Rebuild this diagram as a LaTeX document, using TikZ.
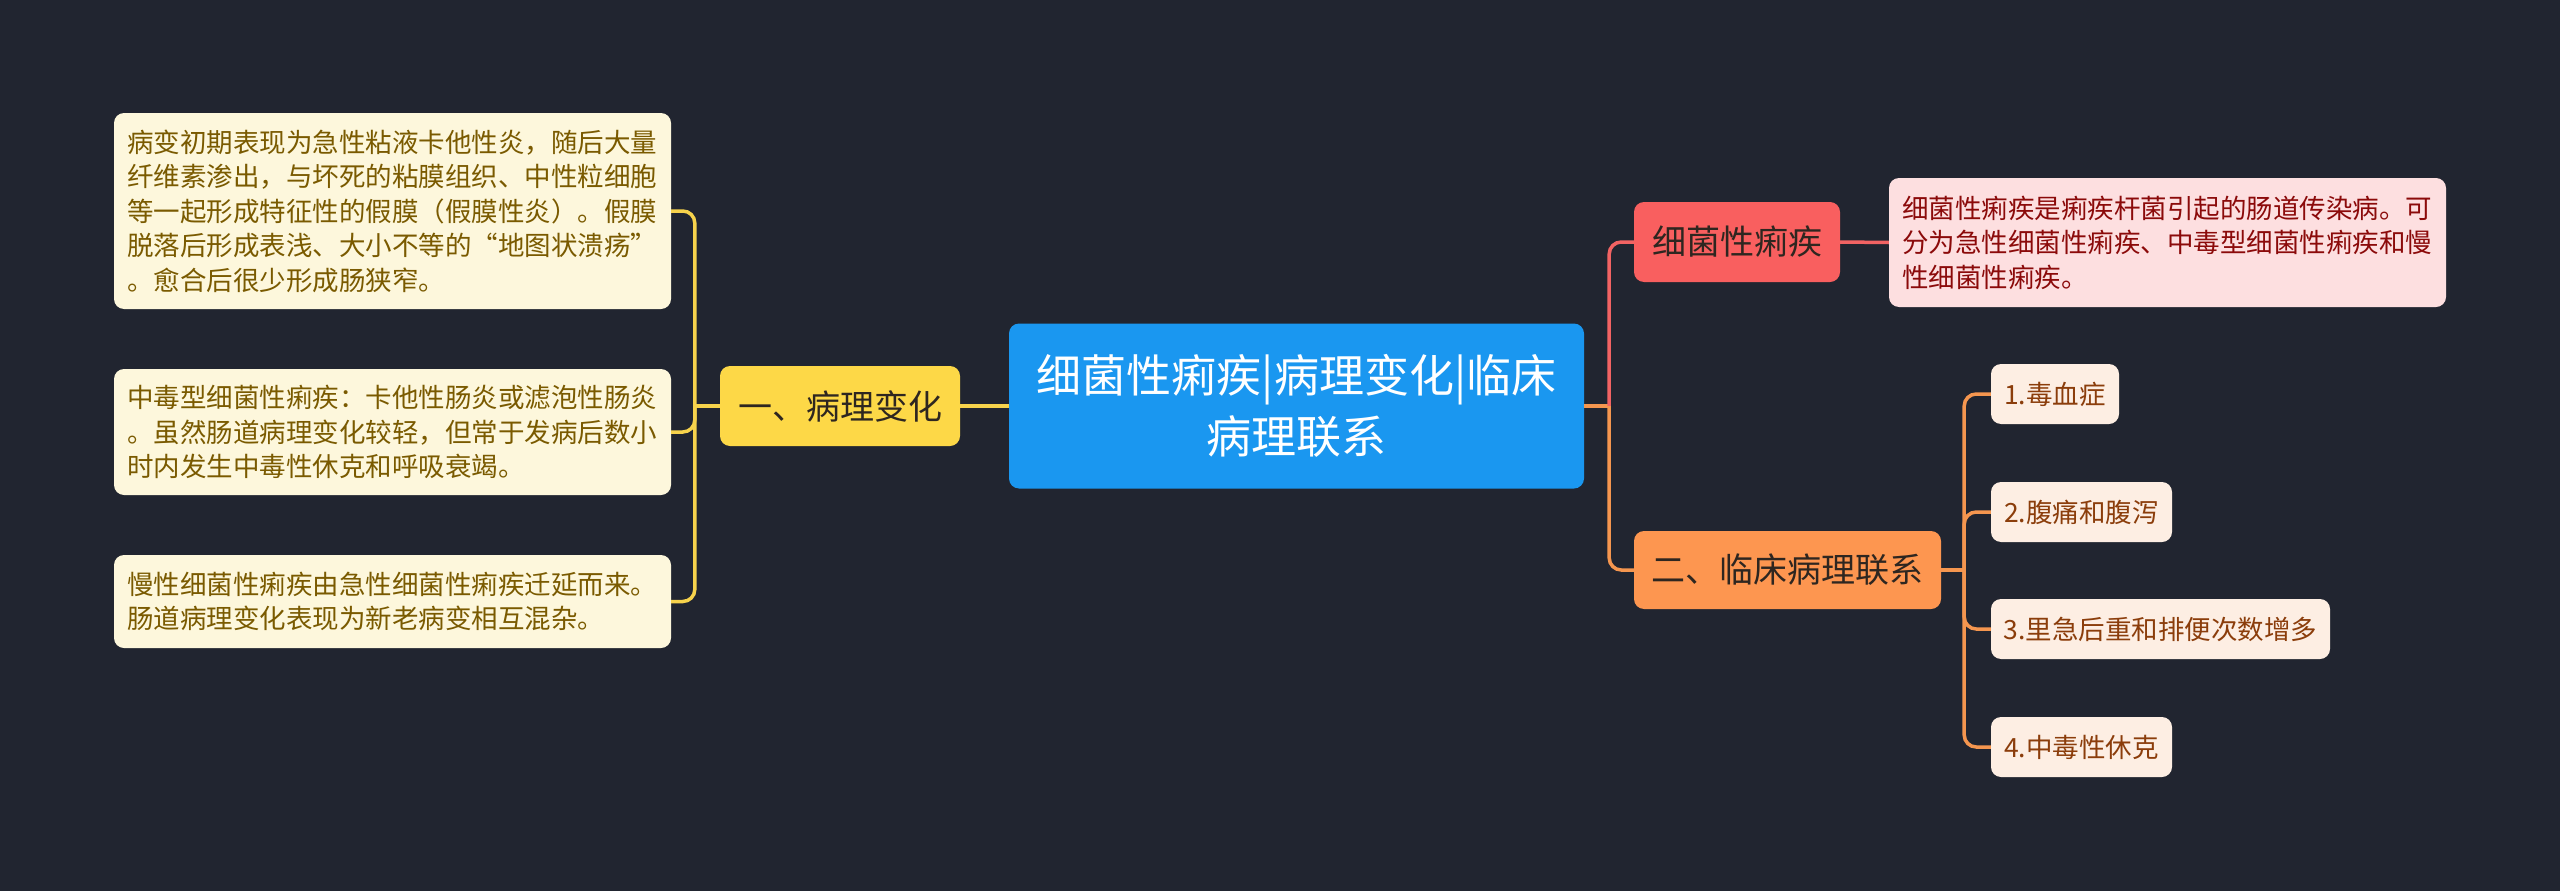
\documentclass[tikz,border=0pt]{standalone}
\usepackage{fontspec}
\setmainfont{Noto Sans CJK SC}
\definecolor{bg}{HTML}{212530}
\definecolor{cblue}{HTML}{1A97F0}
\definecolor{yfill}{HTML}{FDD847}
\definecolor{yline}{HTML}{F7D34C}
\definecolor{ydesc}{HTML}{FDF7DC}
\definecolor{ytext}{HTML}{7A5A00}
\definecolor{rfill}{HTML}{F95F5F}
\definecolor{rline}{HTML}{F26363}
\definecolor{pdesc}{HTML}{FDDFE0}
\definecolor{ptext}{HTML}{8B0A0A}
\definecolor{ofill}{HTML}{FD9650}
\definecolor{oline}{HTML}{F5964F}
\definecolor{lfill}{HTML}{FDEEE3}
\definecolor{ltext}{HTML}{8B3D0B}
\definecolor{dtext}{HTML}{2E2620}
\tikzset{
  box/.style={rounded corners=10pt, inner sep=0pt, align=center},
  rootbox/.style={box, fill=cblue, text=white, font=\fontsize{45}{61}\selectfont},
  branchbox/.style={box, font=\fontsize{34}{40}\selectfont, text=dtext, minimum height=80pt},
  descbox/.style={box, align=left, font=\fontsize{26.5}{34.5}\selectfont, inner xsep=13pt, text width=531pt},
  leafbox/.style={box, fill=lfill, text=ltext, font=\fontsize{26.5}{32}\selectfont, minimum height=60pt},
  conn/.style={line width=3.5pt},
  elbow/.style={line width=3.5pt, rounded corners=12pt},
}
\begin{document}
\begin{tikzpicture}[x=1pt,y=-1pt]
\fill[bg] (0,0) rectangle (2560,891);
\useasboundingbox (0,0) rectangle (2560,891);

% root
\node[rootbox, minimum width=575pt, minimum height=165pt] (root) at (1296.5,406) {细菌性痢疾|病理变化|临床\\病理联系};

% left branch
\node[branchbox, fill=yfill, minimum width=240pt] (yb) at (840,406) {一、病理变化};
\node[descbox, fill=ydesc, text=ytext, minimum height=196pt] (d1) at (392.5,211) {病变初期表现为急性粘液卡他性炎，随后大量\\纤维素渗出，与坏死的粘膜组织、中性粒细胞\\等一起形成特征性的假膜（假膜性炎）。假膜\\脱落后形成表浅、大小不等的“地图状溃疡”\\。愈合后很少形成肠狭窄。};
\node[descbox, fill=ydesc, text=ytext, minimum height=126pt] (d2) at (392.5,432) {中毒型细菌性痢疾：卡他性肠炎或滤泡性肠炎\\。虽然肠道病理变化较轻，但常于发病后数小\\时内发生中毒性休克和呼吸衰竭。};
\node[descbox, fill=ydesc, text=ytext, minimum height=93pt] (d3) at (392.5,601.5) {慢性细菌性痢疾由急性细菌性痢疾迁延而来。\\肠道病理变化表现为新老病变相互混杂。};

% right branches
\node[branchbox, fill=rfill, minimum width=206pt] (rb) at (1737,242) {细菌性痢疾};
\node[descbox, fill=pdesc, text=ptext, minimum height=129pt] (pd) at (2167.5,242.5) {细菌性痢疾是痢疾杆菌引起的肠道传染病。可\\分为急性细菌性痢疾、中毒型细菌性痢疾和慢\\性细菌性痢疾。};
\node[branchbox, fill=ofill, minimum width=307pt, minimum height=78pt] (ob) at (1787.5,570) {二、临床病理联系};
\node[leafbox, minimum width=128pt] (l1) at (2055,394) {1.毒血症};
\node[leafbox, minimum width=181pt] (l2) at (2081.5,512) {2.腹痛和腹泻};
\node[leafbox, minimum width=339pt] (l3) at (2160.5,629) {3.里急后重和排便次数增多};
\node[leafbox, minimum width=181pt] (l4) at (2081.5,747) {4.中毒性休克};

% connectors
\draw[conn, yline] (root.west) -- (yb.east);
\draw[conn, yline] (yb.west) -- ++(-25,0) coordinate (jl);
\foreach \dd in {d1,d2,d3} \draw[elbow, yline] (jl) |- (\dd.east);

\draw[conn, oline] (root.east) -- ++(25,0) coordinate (jr);
\draw[elbow, rline] (jr) |- (rb.west);
\draw[elbow, oline] (jr) |- (ob.west);
\draw[conn, rline] (rb.east) -- (pd.west);

\draw[conn, oline] (ob.east) -- ++(23,0) coordinate (jo);
\foreach \ll in {l1,l2,l3,l4} \draw[elbow, oline] (jo) |- (\ll.west);
\end{tikzpicture}
\end{document}
